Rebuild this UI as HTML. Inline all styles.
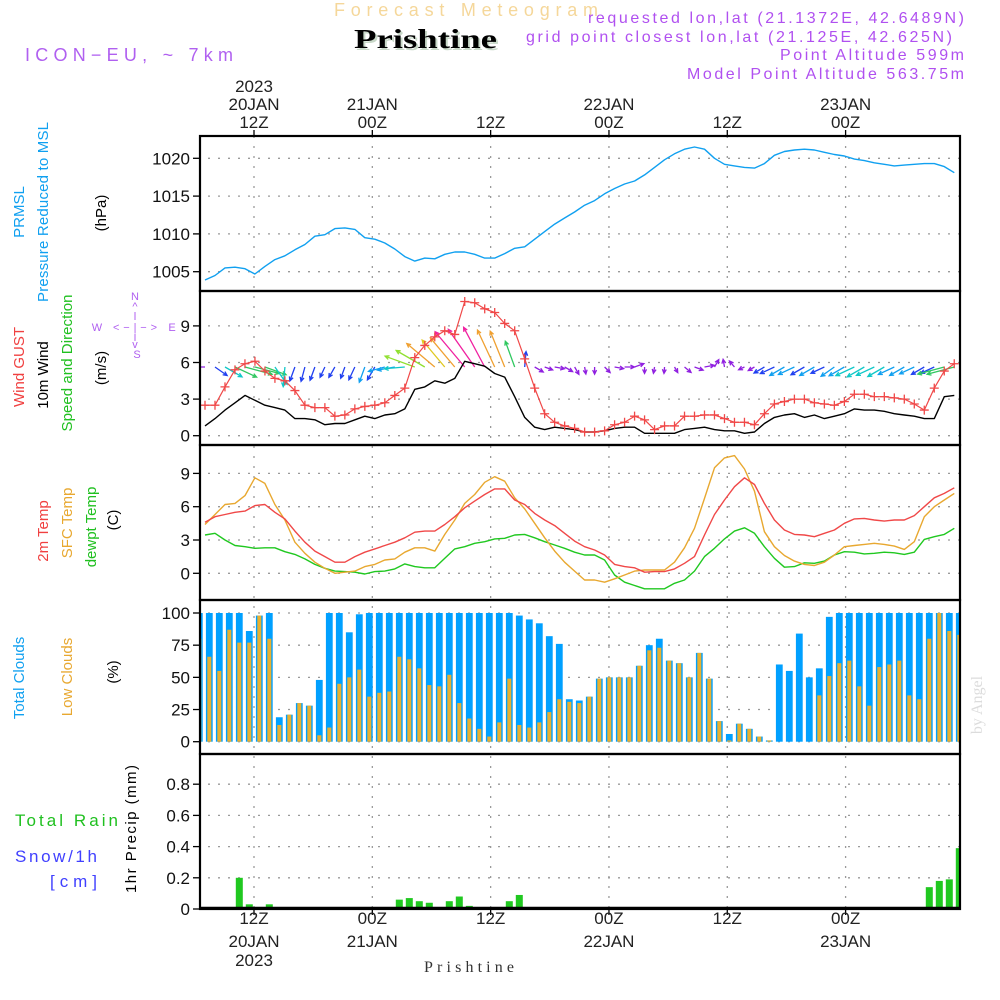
<!DOCTYPE html>
<html><head><meta charset="utf-8"><title>Meteogram Prishtine</title>
<style>
html,body{margin:0;padding:0;background:#fff;}
svg{display:block;font-family:"Liberation Sans",sans-serif;}
</style></head>
<body>
<svg id="chart" xmlns="http://www.w3.org/2000/svg" width="1000" height="1000" viewBox="0 0 1000 1000">
<rect x="0" y="0" width="1000" height="1000" fill="#fff"/>
<defs>
<clipPath id="c1"><rect x="200" y="136" width="760" height="155"/></clipPath>
<clipPath id="c2"><rect x="200" y="291" width="760" height="154"/></clipPath>
<clipPath id="c3"><rect x="200" y="445" width="760" height="155"/></clipPath>
<clipPath id="c4"><rect x="200" y="600" width="760" height="154"/></clipPath>
<clipPath id="c5"><rect x="200" y="754" width="760" height="155"/></clipPath>
</defs>
<!-- header -->
<text x="334" y="16" fill="#f5d79a" font-size="18" textLength="264" lengthAdjust="spacing">Forecast Meteogram</text>
<text x="356" y="50" fill="#c8d8c8" font-family="Liberation Serif,serif" font-weight="bold" font-size="27" textLength="143" lengthAdjust="spacingAndGlyphs">Prishtine</text>
<text x="354" y="48" fill="#000" font-family="Liberation Serif,serif" font-weight="bold" font-size="27" textLength="143" lengthAdjust="spacingAndGlyphs">Prishtine</text>
<text x="25" y="61" fill="#b060f0" font-size="18" textLength="208" lengthAdjust="spacing">ICON−EU, ~ 7km</text>
<text x="588" y="23" fill="#b050f0" font-size="16" textLength="376" lengthAdjust="spacing">requested lon,lat (21.1372E, 42.6489N)</text>
<text x="526" y="42" fill="#b050f0" font-size="16" textLength="426" lengthAdjust="spacing">grid point closest lon,lat (21.125E, 42.625N)</text>
<text x="780" y="60" fill="#b050f0" font-size="16" textLength="184" lengthAdjust="spacing">Point Altitude 599m</text>
<text x="687" y="79" fill="#b050f0" font-size="16" textLength="277" lengthAdjust="spacing">Model Point Altitude 563.75m</text>
<!-- left labels -->
<g font-size="15">
<text transform="translate(24,212) rotate(-90)" text-anchor="middle" fill="#10a0f0">PRMSL</text>
<text transform="translate(48,212) rotate(-90)" text-anchor="middle" fill="#10a0f0" textLength="180" lengthAdjust="spacing">Pressure Reduced to MSL</text>
<text transform="translate(106,213) rotate(-90)" text-anchor="middle" fill="#000">(hPa)</text>
<text transform="translate(24,367) rotate(-90)" text-anchor="middle" fill="#f04040">Wind GUST</text>
<text transform="translate(48,375) rotate(-90)" text-anchor="middle" fill="#000">10m Wind</text>
<text transform="translate(72,363) rotate(-90)" text-anchor="middle" fill="#20c020" textLength="137" lengthAdjust="spacing">Speed and Direction</text>
<text transform="translate(106,368) rotate(-90)" text-anchor="middle" fill="#000">(m/s)</text>
<text transform="translate(48,531) rotate(-90)" text-anchor="middle" fill="#f04040">2m Temp</text>
<text transform="translate(72,523) rotate(-90)" text-anchor="middle" fill="#e8a830">SFC Temp</text>
<text transform="translate(96,527) rotate(-90)" text-anchor="middle" fill="#20c020">dewpt Temp</text>
<text transform="translate(118,520) rotate(-90)" text-anchor="middle" fill="#000">(C)</text>
<text transform="translate(24,678) rotate(-90)" text-anchor="middle" fill="#10a0f0">Total Clouds</text>
<text transform="translate(72,677) rotate(-90)" text-anchor="middle" fill="#e8a830">Low Clouds</text>
<text transform="translate(118,672) rotate(-90)" text-anchor="middle" fill="#000">(%)</text>
<text x="15" y="826" fill="#20c020" font-size="17" textLength="103" lengthAdjust="spacing">Total  Rain</text>
<text x="15" y="862" fill="#4040ff" font-size="17" textLength="82" lengthAdjust="spacing">Snow/1h</text>
<text x="50" y="887" fill="#4040ff" font-size="17" textLength="47" lengthAdjust="spacing">[cm]</text>
<text transform="translate(136,829) rotate(-90)" text-anchor="middle" fill="#000" textLength="128" lengthAdjust="spacing">1hr Precip (mm)</text>
</g>
<g fill="#b060f0" font-size="11" text-anchor="middle">
<text x="135" y="300">N</text>
<text x="135" y="310">^</text>
<text x="97" y="331">W</text>
<text x="135" y="331" textLength="44" lengthAdjust="spacing">&lt;−|−&gt;</text>
<text x="172" y="331">E</text>
<text x="135" y="348">v</text>
<text x="137" y="358">S</text>
<line x1="135" y1="312" x2="135" y2="320" stroke="#b060f0"/>
<line x1="135" y1="334" x2="135" y2="341" stroke="#b060f0"/>
</g>
<text transform="translate(982,705) rotate(-90)" text-anchor="middle" fill="#dcdcdc" font-family="Liberation Serif,serif" font-size="16">by Angel</text>
<text x="469" y="972" text-anchor="middle" fill="#333" font-family="Liberation Serif,serif" font-size="16" textLength="90" lengthAdjust="spacing">Prishtine</text>
<g id="plot"></g>
</svg>
<script>
// ---------- data (hourly, 20JAN 07Z onward) ----------
const gridHours = [0, 12, 24, 36, 48, 60];
const topTimeLabels = [["2023","20JAN","12Z"],["","21JAN","00Z"],["","","12Z"],["","22JAN","00Z"],["","","12Z"],["","23JAN","00Z"]];
const bottomTimeLabels = [["12Z","20JAN","2023"],["00Z","21JAN",""],["12Z","",""],["00Z","22JAN",""],["12Z","",""],["00Z","23JAN",""]];
const pressureTicks = [1005, 1010, 1015, 1020];
const windTicks = [0, 3, 6, 9];
const tempTicks = [0, 3, 6, 9];
const cloudTicks = [0, 25, 50, 75, 100];
const precipTicks = [0, 0.2, 0.4, 0.6, 0.8];
const precipTickLabels = ["0", "0.2", "0.4", "0.6", "0.8"];

const pressure = [1003.9,1004.5,1005.5,1005.6,1005.4,1004.7,1005.7,1006.6,1007.1,1007.9,1008.6,1009.7,1009.9,1010.7,1010.8,1010.6,1009.5,1009.3,1008.8,1008.0,1007.0,1006.4,1006.8,1006.7,1007.3,1007.6,1007.6,1007.3,1006.8,1006.8,1007.4,1008.1,1008.3,1009.3,1010.3,1011.3,1012.1,1012.9,1013.8,
1014.4,1015.3,1016.0,1016.6,1017.0,1017.8,1018.8,1019.8,1020.6,1021.2,1021.5,1021.2,1020.0,1019.2,1019.0,1018.8,1018.7,1019.3,1020.4,1020.9,1021.1,1021.2,1021.1,1020.8,1020.5,1020.3,1019.9,1019.7,1019.4,1019.2,1019.0,1019.1,1019.2,1019.3,1019.3,1018.9,1018.1];
const windGust = [2.5,2.5,4.0,5.4,5.9,6.1,5.3,4.7,4.5,3.7,2.5,2.3,2.3,1.6,1.7,2.2,2.4,2.5,2.7,3.3,3.9,6.4,7.4,8.1,8.6,8.3,11.0,10.9,10.4,10.1,9.2,8.6,6.3,3.9,1.8,1.1,0.8,0.6,0.3,
0.3,0.4,0.9,1.1,1.6,1.3,0.5,0.8,0.8,1.6,1.6,1.7,1.7,1.4,1.1,1.1,0.9,1.8,2.6,2.8,3.0,3.0,2.7,2.6,2.5,2.8,3.4,3.4,3.2,3.2,3.1,3.0,2.6,2.1,3.9,5.3,5.9];
const wind10m = [0.8,1.4,2.1,2.7,3.3,2.9,2.5,2.3,2.1,1.4,1.4,1.3,0.9,1.0,1.0,1.3,1.6,1.4,1.7,1.8,2.2,3.8,4.0,4.5,4.3,4.7,6.1,5.9,5.7,5.1,4.8,3.2,1.5,0.7,0.5,0.7,0.6,0.5,0.3,
0.3,0.4,0.6,0.7,0.7,0.2,0.2,0.2,0.2,0.5,0.6,0.7,0.5,0.4,0.4,0.2,0.3,1.0,1.5,1.7,1.8,1.5,1.7,1.4,1.6,1.8,2.2,2.1,2.1,2.0,1.8,1.7,1.6,1.4,1.4,3.2,3.3];
// direction each arrow points (screen degrees, 0 = east, 90 = north)
const windArrowDir = [180,-35,-30,-25,-15,-15,-20,-55,-95,-110,-105,-110,-115,-120,-110,-115,-110,-120,195,190,185,160,150,140,130,130,130,125,118,115,112,110,85,
-30,-20,-10,-30,-60,-80,-90,-45,-10,0,20,-90,-100,-95,-60,-40,-20,10,60,100,130,
205,210,210,205,210,205,210,210,205,215,210,205,210,205,210,205,210,205,210,205,195,195,195];
const temp2m = [4.6,5.1,5.3,5.5,5.6,6.1,6.2,5.5,4.9,3.8,2.8,2.0,1.5,1.0,1.0,1.5,1.9,2.2,2.5,2.8,3.2,3.7,3.8,3.8,4.4,5.1,5.9,6.5,7.1,7.6,7.6,6.6,6.2,5.4,4.8,4.3,3.6,2.9,2.4,
2.1,1.65,0.8,0.6,0.5,0.1,0.15,0.15,0.4,0.9,1.5,3.45,5.3,6.6,7.8,8.6,8.0,6.3,4.8,3.9,3.5,3.45,3.3,3.6,3.9,4.5,4.9,4.95,4.8,4.7,4.8,4.8,5.2,6.0,6.8,7.2,7.7];
const tempSfc = [4.4,5.3,6.2,6.3,7.0,8.6,8.1,6.2,4.8,2.8,1.8,1.0,0.45,0.0,0.1,0.2,0.6,0.8,1.2,1.3,1.9,2.3,2.3,2.0,3.5,4.8,6.3,7.1,8.2,8.7,8.3,6.8,5.8,4.5,3.2,2.0,1.0,0.2,-0.6,
-0.6,-0.8,-0.5,-0.15,0.2,0.3,0.3,0.3,1.0,2.3,4.05,6.75,9.5,10.4,10.6,9.4,7.4,3.75,2.4,1.6,1.1,0.8,0.7,1.0,1.65,2.4,2.5,2.6,2.7,2.6,2.45,2.15,2.85,5.1,6.0,6.6,7.2];
const dewpt = [3.45,3.6,3.0,2.5,2.4,2.25,2.3,2.3,1.95,1.7,1.3,0.8,0.45,0.2,0.15,0.1,-0.06,0.15,0.2,0.4,0.85,0.6,0.5,0.5,1.35,2.2,2.4,2.7,2.85,3.1,3.15,3.45,3.5,3.2,2.85,2.55,2.25,1.9,1.65,
1.65,1.2,-0.15,-0.8,-1.1,-1.4,-1.4,-1.4,-0.9,-0.6,0.2,1.5,2.25,3.1,3.8,4.1,3.6,2.4,1.35,0.55,0.6,0.95,0.9,1.1,1.65,1.95,1.9,1.75,1.8,1.9,1.85,1.7,1.9,3.05,3.3,3.5,4.05];
const totalClouds = [100,100,100,100,100,86,98,100,19,21,30,28,48,100,100,85,99,100,100,100,100,100,100,100,100,100,100,100,100,100,100,100,98,95,92,82,76,33,32,35,
49,50,50,50,59,75,80,63,61,50,69,49,16,6,14,10,4,1,60,55,84,50,57,97,100,100,100,100,100,100,100,100,100,100,100,100,100];
const lowClouds = [80,66,55,87,77,77,98,80,13,21,30,28,5,11,45,50,56,35,38,39,66,64,57,44,43,52,30,18,10,4,15,49,13,11,15,23,33,31,30,35,
49,50,50,50,59,71,73,63,61,50,69,49,16,1,14,10,4,1,0,0,0,0,36,51,61,63,43,28,58,60,63,36,33,80,100,86,83];
const precip = [0,0,0,0.01,0.2,0.03,0,0.03,0,0,0,0,0,0,0,0,0,0,0,0,0.06,0.07,0.05,0.04,0,0.05,0.08,0.02,0,0,0.003,0.05,0.09,0,0,0,0,0,0,0,
0,0,0,0,0,0,0,0,0,0,0,0,0,0,0,0,0,0,0,0,0,0,0,0,0,0,0,0,0,0,0,0,0,0.14,0.18,0.19,0.39];

// ---------- axes ----------
const NS = "http://www.w3.org/2000/svg";
const X0 = 200, X1 = 960;
const xT = h => 254 + h * 9.86;
const xL = k => 205 + k * 9.99;
const xB = k => 199.3 + k * 10;
const yP = v => 271.7 - (v - 1005) * 7.56;
const yW = v => 435.7 - v * 12.2;
const yT = v => 573.3 - v * 11.1;
const yC = v => 741.7 - v * 1.287;
const yR = v => 909 - v * 156;
const panels = [[136,291],[291,445],[445,600],[600,754],[754,909]];
const plot = document.getElementById('plot');

function mk(tag, attrs, parent) {
  const e = document.createElementNS(NS, tag);
  for (const k in attrs) e.setAttribute(k, attrs[k]);
  (parent || plot).appendChild(e);
  return e;
}
function txt(s, x, y, attrs, parent) {
  const e = mk('text', Object.assign({x: x, y: y}, attrs), parent);
  e.textContent = s;
  return e;
}

gridHours.forEach(h => {
  const l = mk('line', {x1: xT(h), x2: xT(h), y1: 136, y2: 909, stroke: '#9a9a9a', 'stroke-width': 1.3, 'stroke-dasharray': '2 8'});
  
  
  const t1 = mk('line', {x1: xT(h), x2: xT(h), y1: 130, y2: 136, stroke: '#000', 'stroke-width': 1.3});
  
  
  const t2 = mk('line', {x1: xT(h), x2: xT(h), y1: 909, y2: 915, stroke: '#000', 'stroke-width': 1.3});
  
  
});
topTimeLabels.forEach((lab, i) => {
  const ys = [92, 110, 128];
  lab.forEach((s, j) => {
    if (!s) return;
    const t = txt(s, xT(gridHours[i]), ys[j], {'text-anchor': 'middle', 'font-size': 17, fill: '#222'});
    
    
  });
});
bottomTimeLabels.forEach((lab, i) => {
  const ys = [924, 947, 966];
  lab.forEach((s, j) => {
    if (!s) return;
    const t = txt(s, xT(gridHours[i]), ys[j], {'text-anchor': 'middle', 'font-size': 17, fill: '#222'});
    
    
  });
});

function yAxis(ticks, labels, fy, name) {
  ticks.forEach((v, i) => {
    const y = fy(v);
    const g = mk('line', {x1: X0, x2: X1, y1: y, y2: y, stroke: '#9a9a9a', 'stroke-width': 1.3, 'stroke-dasharray': '2 8', 'stroke-dashoffset': -8});
    
    
    const t = mk('line', {x1: 193, x2: 200, y1: y, y2: y, stroke: '#000', 'stroke-width': 1.3});
    
    
    const l = txt(labels[i], 190, y + 6, {'text-anchor': 'end', 'font-size': 17, fill: '#111'});
    
    
  });
}
yAxis(pressureTicks, pressureTicks.map(String), yP, 'pressure');
yAxis(windTicks, windTicks.map(String), yW, 'wind');
yAxis(tempTicks, tempTicks.map(String), yT, 'temp');
yAxis(cloudTicks, cloudTicks.map(String), yC, 'cloud');
yAxis(precipTicks, precipTickLabels, yR, 'precip');

function polyline(vals, fy, color, clip, name, w) {
  const pts = vals.map((v, k) => xL(k).toFixed(1) + ',' + fy(v).toFixed(1)).join(' ');
  const p = mk('polyline', {points: pts, fill: 'none', stroke: color, 'stroke-width': w || 1.4, 'clip-path': 'url(#' + clip + ')', 'stroke-linejoin': 'round'});
  
  
  return p;
}

polyline(pressure, yP, '#10a0f0', 'c1', 'pressure-line');

function speedColor(s) {
  if (s < 0.9) return '#9020e0';
  if (s < 1.6) return '#2040f0';
  if (s < 2.0) return '#10a0f0';
  if (s < 2.5) return '#10c8c8';
  if (s < 3.5) return '#30c860';
  if (s < 4.2) return '#90e030';
  if (s < 4.5) return '#e0c820';
  if (s < 5.5) return '#f0a030';
  return '#f020a0';
}
const arrowG = mk('g', {'clip-path': 'url(#c2)'});


windArrowDir.forEach((d, k) => {
  const s = wind10m[k];
  const L = Math.min(46, 5 + 7 * s);
  const a = d * Math.PI / 180;
  const x1 = xL(k), y1 = 367;
  const x2 = x1 + L * Math.cos(a), y2 = y1 - L * Math.sin(a);
  const c = speedColor(s);
  const h = 4.5;
  const b1 = a + Math.PI - 0.45, b2 = a + Math.PI + 0.45;
  const p = mk('path', {d: 'M' + x1 + ',' + y1 + 'L' + x2 + ',' + y2 + 'M' + (x2 + h * Math.cos(b1)) + ',' + (y2 - h * Math.sin(b1)) + 'L' + x2 + ',' + y2 + 'L' + (x2 + h * Math.cos(b2)) + ',' + (y2 - h * Math.sin(b2)), stroke: c, 'stroke-width': 1.3, fill: 'none'}, arrowG);
  
  
});
polyline(wind10m, yW, '#000', 'c2', 'wind-10m-line');
polyline(windGust, yW, '#f04848', 'c2', 'wind-gust-line', 1.2);
const gustG = mk('g', {'clip-path': 'url(#c2)', stroke: '#f04848', 'stroke-width': 1.3});


windGust.forEach((v, k) => {
  const x = xL(k), y = yW(v);
  const m = mk('path', {d: 'M' + (x - 4.5) + ',' + y + 'H' + (x + 4.5) + 'M' + x + ',' + (y - 4.5) + 'V' + (y + 4.5)}, gustG);
  
  
});

polyline(dewpt, yT, '#20c820', 'c3', 'dewpoint-line');
polyline(tempSfc, yT, '#e8a830', 'c3', 'sfc-temp-line');
polyline(temp2m, yT, '#f04848', 'c3', 't2m-line');

const cloudG = mk('g', {'clip-path': 'url(#c4)'});


totalClouds.forEach((v, k) => {
  const x = xB(k);
  const b = mk('rect', {x: x - 3.4, y: yC(v), width: 6.8, height: yC(0) - yC(v), fill: '#00a0ff'}, cloudG);
  
  
  const l = lowClouds[k];
  const r = mk('rect', {x: x - 2, y: yC(l), width: 4, height: yC(0) - yC(l), fill: '#e8b030'}, cloudG);
  
  
});

const precG = mk('g', {'clip-path': 'url(#c5)'});


precip.forEach((v, k) => {
  if (v <= 0) return;
  const r = mk('rect', {x: xB(k) - 3.5, y: yR(v), width: 7, height: yR(0) - yR(v), fill: '#20c820'}, precG);
  
  
});
const zl = mk('line', {x1: X0, x2: X1, y1: 908, y2: 908, stroke: '#000', 'stroke-width': 2.5});



panels.forEach((p, i) => {
  const r = mk('rect', {x: X0, y: p[0], width: X1 - X0, height: p[1] - p[0], fill: 'none', stroke: '#000', 'stroke-width': 2.2});
  
  
});
</script>
</body></html>
